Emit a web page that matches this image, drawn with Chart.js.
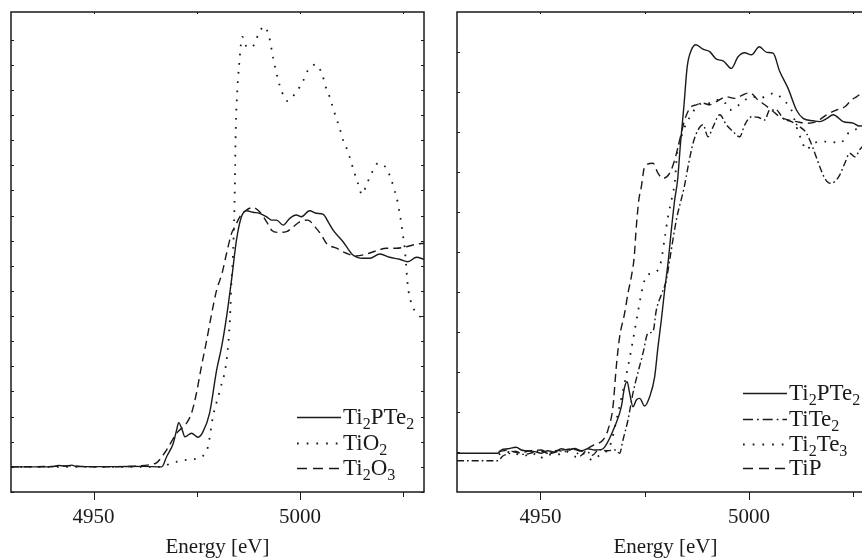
<!DOCTYPE html>
<html>
<head>
<meta charset="utf-8">
<script src="https://cdn.jsdelivr.net/npm/chart.js@4.4.1/dist/chart.umd.min.js"></script>
<style>
  html, body { margin: 0; padding: 0; background: #fff; overflow: hidden; }
  body { width: 862px; height: 558px; position: relative; }
  canvas { position: absolute; top: 0; }
  .key { position: absolute; height: 24px; display: flex; align-items: center;
         font-family: "Liberation Serif", "DejaVu Serif", serif; font-size: 23px; color: #1a1a1a; }
  .key svg { flex: none; margin-right: 2px; }
  .key span { line-height: 24px; white-space: nowrap; }
  .key sub { font-size: 0.7em; vertical-align: -0.3em; line-height: 0; }
</style>
</head>
<body>
<canvas id="left" width="440" height="558" style="left:0"></canvas>
<canvas id="right" width="450" height="558" style="left:440px"></canvas>
<div id="keys"></div>
<script>
// x axis (Energy, eV)
const xTicks = [4950, 4975, 5000, 5025];
const xTickLabels = ['4950', '', '5000', ''];
const xTitle = 'Energy [eV]';

// y ticks (normalised absorption, no labels)
const leftYTicks = [-0.1, 0, 0.1, 0.2, 0.3, 0.4, 0.5, 0.6, 0.7, 0.8, 0.9, 1.0, 1.1, 1.2, 1.3, 1.4, 1.5, 1.6, 1.7];
const rightYTicks = [0, 0.1, 0.2, 0.3, 0.4, 0.5, 0.6, 0.7, 0.8, 0.9, 1.0];

// ---- left panel ----
const L_Ti2PTe2_E = [4930, 4940, 4941.5, 4943, 4944.7, 4946, 4955, 4962, 4966.5, 4967.7, 4969.3, 4970.1, 4970.6, 4971.4, 4972.1, 4973.7, 4975.3, 4976.5, 4978.1, 4979.8, 4981, 4982.2, 4983.4, 4984.6, 4985.8, 4987, 4988.6, 4990.2, 4991.9, 4993.1, 4994.3, 4995.9, 4997.5, 4999.1, 5000.3, 5002.3, 5004, 5005.6, 5006.8, 5008, 5010.4, 5012.8, 5015.2, 5016.9, 5019.3, 5021.7, 5024.1, 5026.1, 5028.2, 5030];
const L_Ti2PTe2_mu = [0, 0, 0.006, 0.003, 0.007, 0.001, 0.001, 0.002, 0, 0.041, 0.094, 0.147, 0.176, 0.15, 0.12, 0.134, 0.118, 0.14, 0.215, 0.386, 0.478, 0.598, 0.744, 0.903, 0.995, 1.019, 1.013, 1.009, 0.995, 0.982, 0.982, 0.962, 0.989, 1.002, 0.995, 1.019, 1.009, 1.005, 0.975, 0.942, 0.896, 0.843, 0.83, 0.83, 0.847, 0.834, 0.826, 0.816, 0.834, 0.826];

const L_TiO2_E = [4930, 4966, 4969.3, 4972.5, 4976.5, 4977.7, 4978.9, 4980.6, 4982.2, 4983, 4983.4, 4983.8, 4984.2, 4984.4, 4984.8, 4985.2, 4986, 4987.2, 4988.8, 4989.8, 4991.3, 4992.5, 4993.5, 4994.7, 4995.5, 4996.9, 4999, 5000.7, 5001.9, 5003.8, 5005.4, 5006.2, 5007.2, 5008, 5008.8, 5009.6, 5010.4, 5011.6, 5012.4, 5013.2, 5014, 5015, 5016.1, 5017.3, 5018.9, 5020.9, 5022.1, 5022.9, 5023.7, 5024.1, 5024.5, 5024.9, 5025.3, 5025.7, 5026.1, 5027.3, 5028.6, 5030];
const L_TiO2_mu = [0, 0, 0.017, 0.028, 0.044, 0.081, 0.2, 0.306, 0.425, 0.584, 0.744, 0.863, 1.115, 1.328, 1.499, 1.592, 1.711, 1.669, 1.678, 1.718, 1.753, 1.711, 1.625, 1.539, 1.496, 1.456, 1.49, 1.535, 1.578, 1.601, 1.559, 1.512, 1.47, 1.426, 1.386, 1.347, 1.3, 1.254, 1.211, 1.168, 1.128, 1.084, 1.124, 1.168, 1.208, 1.188, 1.141, 1.099, 1.048, 1.009, 0.969, 0.922, 0.876, 0.796, 0.717, 0.637, 0.604, 0.59];

const L_Ti2O3_E = [4930, 4940, 4944, 4950, 4960, 4964, 4965.3, 4967.7, 4970.1, 4972.5, 4973.7, 4974.9, 4976.1, 4977.4, 4978.6, 4979.8, 4980.6, 4981.1, 4982.2, 4983.4, 4984.2, 4985.4, 4987, 4988.6, 4990.2, 4991.9, 4993.1, 4994.7, 4996.7, 4998.3, 4999.9, 5001.9, 5003.6, 5005.2, 5006.4, 5008.8, 5011.2, 5013.6, 5016.1, 5018.5, 5020.9, 5023.3, 5025.7, 5028.2, 5030];
const L_Ti2O3_mu = [0, 0.002, 0.004, 0, 0.003, 0.01, 0.017, 0.068, 0.134, 0.174, 0.213, 0.293, 0.399, 0.505, 0.611, 0.704, 0.744, 0.77, 0.85, 0.929, 0.955, 0.995, 1.022, 1.032, 1.015, 0.975, 0.942, 0.933, 0.936, 0.955, 0.975, 0.982, 0.955, 0.922, 0.889, 0.87, 0.85, 0.839, 0.847, 0.86, 0.87, 0.87, 0.876, 0.886, 0.89];

// ---- right panel ----
const R_Ti2PTe2_E = [4930, 4939.8, 4940.6, 4942.2, 4944.2, 4945.4, 4946.6, 4948.6, 4950.2, 4951.8, 4953.4, 4955, 4956.6, 4958.2, 4959.8, 4961.4, 4963, 4964.6, 4965.4, 4967.8, 4969.4, 4970.2, 4970.8, 4971.4, 4972.2, 4973, 4973.8, 4975, 4976.2, 4977.4, 4978.2, 4979, 4979.8, 4980.6, 4981.4, 4982.2, 4982.9, 4983.6, 4984.4, 4985.2, 4986.2, 4987.3, 4989, 4990.6, 4992.2, 4993.8, 4995.8, 4997.4, 4999, 5000.6, 5002.5, 5004.3, 5005.8, 5007.4, 5009.4, 5011.4, 5013, 5015.4, 5017, 5018.7, 5020.2, 5022.6, 5025, 5026.5, 5030];
const R_Ti2PTe2_mu = [-0.003, -0.003, 0.005, 0.008, 0.012, 0.005, 0.003, 0.001, -0.003, 0.003, 0, 0.008, 0.005, 0.009, 0.003, 0.008, 0.005, 0.006, 0.012, 0.063, 0.113, 0.163, 0.176, 0.147, 0.113, 0.13, 0.134, 0.115, 0.138, 0.188, 0.263, 0.33, 0.405, 0.472, 0.555, 0.63, 0.68, 0.772, 0.863, 0.963, 1.005, 1.018, 1.007, 1.001, 0.982, 0.978, 0.959, 0.988, 0.998, 0.993, 1.013, 0.999, 0.997, 0.951, 0.909, 0.855, 0.834, 0.828, 0.826, 0.834, 0.843, 0.826, 0.822, 0.815, 0.82];

const R_TiTe2_E = [4930, 4939.8, 4941, 4942.5, 4944, 4946, 4948, 4950, 4952, 4954, 4956, 4958, 4959.5, 4961, 4962.5, 4964, 4966, 4968, 4969, 4969.8, 4971, 4972.2, 4974.6, 4975.8, 4977, 4977.8, 4979, 4980.2, 4981, 4982.6, 4984.5, 4985.4, 4986.6, 4987.8, 4989, 4990.2, 4991.4, 4993, 4994.6, 4996.2, 4997.8, 4999, 5000.6, 5002.2, 5003.8, 5005, 5006.6, 5008.2, 5010.2, 5012.2, 5013.8, 5015.4, 5017, 5018.2, 5019.4, 5020.6, 5021.8, 5023, 5024.2, 5025.4, 5026.8, 5030];
const R_TiTe2_mu = [-0.022, -0.022, -0.01, -0.004, 0.002, -0.006, -0.002, 0.003, -0.004, 0.004, 0.001, 0.008, -0.01, 0.002, -0.008, 0.006, 0.003, 0.005, -0.003, 0.03, 0.08, 0.147, 0.247, 0.297, 0.301, 0.355, 0.393, 0.43, 0.48, 0.58, 0.663, 0.713, 0.772, 0.805, 0.818, 0.788, 0.813, 0.843, 0.818, 0.801, 0.788, 0.818, 0.838, 0.837, 0.83, 0.855, 0.855, 0.834, 0.826, 0.813, 0.797, 0.759, 0.713, 0.684, 0.672, 0.676, 0.693, 0.722, 0.747, 0.738, 0.759, 0.78];

const R_Ti2Te3_E = [4940, 4942, 4944, 4946, 4948, 4949.8, 4951.5, 4953.8, 4956, 4958.6, 4960.5, 4962.4, 4964.5, 4966.6, 4968.6, 4971, 4972.5, 4973.4, 4975, 4976.6, 4978.2, 4979, 4979.8, 4980.6, 4981.6, 4982.2, 4982.8, 4983.8, 4985, 4986.2, 4987.4, 4989, 4990.6, 4992.2, 4993.8, 4995.4, 4997, 4999, 5001, 5002.6, 5004.6, 5006.2, 5008.2, 5010.2, 5011.4, 5012.6, 5013.8, 5015, 5017, 5019.4, 5021.8, 5024.2, 5026.8, 5030];
const R_Ti2Te3_mu = [-0.006, 0, -0.004, -0.01, -0.002, -0.016, -0.006, -0.008, 0.002, -0.012, -0.004, -0.02, -0.005, 0.013, 0.097, 0.213, 0.297, 0.351, 0.43, 0.447, 0.455, 0.48, 0.534, 0.588, 0.638, 0.672, 0.747, 0.788, 0.822, 0.843, 0.863, 0.872, 0.872, 0.88, 0.879, 0.855, 0.863, 0.88, 0.888, 0.884, 0.893, 0.897, 0.88, 0.855, 0.813, 0.78, 0.755, 0.768, 0.776, 0.776, 0.772, 0.801, 0.809, 0.815];

const R_TiP_E = [4940, 4942, 4945, 4947.5, 4950, 4952.5, 4955, 4957.5, 4960, 4961.5, 4962.8, 4965, 4966.2, 4967.4, 4968.2, 4969, 4970.2, 4971, 4971.8, 4972.5, 4973, 4973.6, 4974.2, 4975, 4977, 4978.2, 4979.4, 4981, 4982.2, 4983.4, 4984.6, 4985.8, 4987.4, 4989, 4990.6, 4992.2, 4994.6, 4996.6, 4998.6, 5000.2, 5002.2, 5003.8, 5005.4, 5007.4, 5009.4, 5011.4, 5013.8, 5016.2, 5018.6, 5021, 5023, 5024.6, 5025.8, 5030];
const R_TiP_mu = [0.001, 0.004, -0.002, 0.003, 0.005, -0.003, 0.004, 0.008, 0.002, 0.01, 0.018, 0.03, 0.055, 0.113, 0.213, 0.288, 0.347, 0.397, 0.438, 0.488, 0.563, 0.63, 0.663, 0.713, 0.722, 0.697, 0.684, 0.697, 0.73, 0.78, 0.83, 0.859, 0.868, 0.872, 0.868, 0.876, 0.888, 0.884, 0.893, 0.898, 0.88, 0.868, 0.855, 0.838, 0.83, 0.826, 0.822, 0.826, 0.843, 0.855, 0.863, 0.88, 0.888, 0.92];

const INK = '#1a1a1a';
const SERIF = '"Liberation Serif", "DejaVu Serif", serif';

const styles = {
  solid:   [],
  dotted:  [1.7, 7.5],
  dashed:  [8, 5],
  dashdot: [7, 3, 1.7, 3]
};

function pts(E, mu) {
  return E.map((e, i) => ({x: e, y: mu[i]}));
}

function ds(label, E, mu, dash) {
  return {
    label,
    data: pts(E, mu),
    borderColor: INK,
    borderWidth: dash === styles.dotted ? 1.8 : 1.4,
    borderDash: dash,
    borderCapStyle: 'butt',
    pointRadius: 0,
    cubicInterpolationMode: 'monotone',
    fill: false
  };
}

// box frame and the small tick marks
const frame = {
  id: 'frame',
  afterDatasetsDraw(chart, args, opts) {
    const {ctx, chartArea: a} = chart;
    const x = chart.scales.x, y = chart.scales.y;
    ctx.save();
    ctx.strokeStyle = INK;
    ctx.lineWidth = 1.5;
    ctx.strokeRect(a.left, a.top, a.right - a.left, a.bottom - a.top);
    ctx.lineWidth = 1;
    ctx.beginPath();
    xTicks.forEach((v, i) => {
      const p = Math.round(x.getPixelForValue(v)) + 0.5;
      const len = xTickLabels[i] ? 8 : 5;
      ctx.moveTo(p, a.bottom);
      ctx.lineTo(p, a.bottom + len);
      ctx.moveTo(p, a.top);
      ctx.lineTo(p, a.top + 2);
    });
    opts.yTicks.forEach(v => {
      const p = Math.round(y.getPixelForValue(v)) + 0.5;
      ctx.moveTo(a.left, p);
      ctx.lineTo(a.left + 3, p);
      ctx.moveTo(a.right, p);
      ctx.lineTo(a.right - 3, p);
    });
    ctx.stroke();
    ctx.restore();
  }
};

function makeChart(id, datasets, yMin, yMax, yTicks, pad) {
  return new Chart(document.getElementById(id), {
    type: 'line',
    data: {datasets},
    options: {
      responsive: false,
      animation: false,
      devicePixelRatio: 1,
      layout: {padding: pad},
      plugins: {legend: {display: false}, tooltip: {enabled: false}, frame: {yTicks}},
      scales: {
        x: {
          type: 'linear',
          min: 4930,
          max: 5030,
          afterBuildTicks: s => { s.ticks = xTicks.map(v => ({value: v})); },
          afterFit: s => { s.height = 66; },
          grid: {display: false, drawTicks: false},
          border: {display: false},
          ticks: {
            autoSkip: false,
            maxRotation: 0,
            padding: 13,
            color: INK,
            font: {family: SERIF, size: 21},
            callback: v => xTickLabels[xTicks.indexOf(v)] || ''
          },
          title: {
            display: true,
            text: xTitle,
            color: INK,
            padding: {top: 0, bottom: 0},
            font: {family: SERIF, size: 21, lineHeight: 1.0}
          }
        },
        y: {display: false, min: yMin, max: yMax}
      }
    },
    plugins: [frame]
  });
}

makeChart('left', [
  ds('Ti2PTe2', L_Ti2PTe2_E, L_Ti2PTe2_mu, styles.solid),
  ds('TiO2', L_TiO2_E, L_TiO2_mu, styles.dotted),
  ds('Ti2O3', L_Ti2O3_E, L_Ti2O3_mu, styles.dashed)
], -0.1, 1.81, leftYTicks, {left: 11, right: 16, top: 12, bottom: 0});

makeChart('right', [
  ds('Ti2PTe2', R_Ti2PTe2_E, R_Ti2PTe2_mu, styles.solid),
  ds('TiTe2', R_TiTe2_E, R_TiTe2_mu, styles.dashdot),
  ds('Ti2Te3', R_Ti2Te3_E, R_Ti2Te3_mu, styles.dotted),
  ds('TiP', R_TiP_E, R_TiP_mu, styles.dashed)
], -0.1, 1.1, rightYTicks, {left: 17, right: 16, top: 12, bottom: 0});

// legends (HTML so the subscripts stay real text)
const legendDash = {solid: '', dotted: '1.7 8', dashed: '10 6', dashdot: '10 4 1.7 4'};
const leftKeys = [
  ['Ti<sub>2</sub>PTe<sub>2</sub>', 'solid', 417],
  ['TiO<sub>2</sub>', 'dotted', 443],
  ['Ti<sub>2</sub>O<sub>3</sub>', 'dashed', 468]
];
const rightKeys = [
  ['Ti<sub>2</sub>PTe<sub>2</sub>', 'solid', 393],
  ['TiTe<sub>2</sub>', 'dashdot', 419],
  ['Ti<sub>2</sub>Te<sub>3</sub>', 'dotted', 444],
  ['TiP', 'dashed', 468]
];
function addKeys(list, x0) {
  const box = document.getElementById('keys');
  list.forEach(([html, kind, yc]) => {
    const d = document.createElement('div');
    d.className = 'key';
    d.style.left = x0 + 'px';
    d.style.top = (yc - 12) + 'px';
    d.innerHTML = '<svg width="44" height="24"><line x1="0" y1="12.5" x2="44" y2="12.5" stroke="' + INK +
      '" stroke-width="' + (kind === 'dotted' ? 1.8 : 1.4) + '" stroke-dasharray="' + legendDash[kind] + '"/></svg><span>' + html + '</span>';
    box.appendChild(d);
  });
}
addKeys(leftKeys, 297);
addKeys(rightKeys, 743);
</script>
</body>
</html>
